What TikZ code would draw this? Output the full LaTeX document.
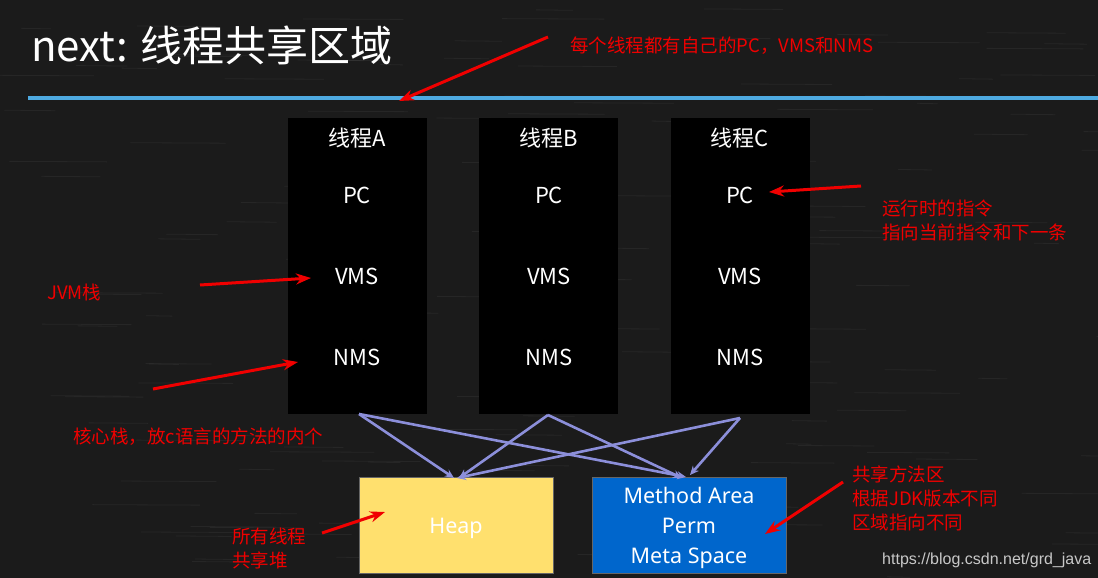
\documentclass[tikz,border=0pt]{standalone}
\usepackage{fontspec}
\setmainfont{Noto Sans}
\newfontfamily\cjk{Noto Sans CJK SC}
\newfontfamily\wmfont{Liberation Sans}
\usetikzlibrary{arrows.meta}
\definecolor{bgcol}{RGB}{27,27,27}
\definecolor{linecol}{RGB}{78,170,225}
\definecolor{conncol}{RGB}{140,143,218}
\definecolor{heapcol}{RGB}{255,224,110}
\definecolor{methcol}{RGB}{0,102,204}
\definecolor{annred}{RGB}{240,0,0}
\definecolor{wmgray}{RGB}{200,200,200}
\tikzset{
  colbox/.style={fill=black, draw=none, minimum width=139pt, minimum height=296pt, inner sep=0pt},
  coltext/.style={text=white, font=\cjk\fontsize{22}{26}\selectfont, inner sep=0pt},
  membox/.style={minimum width=194pt, minimum height=96pt, inner sep=0pt, draw=black!60, line width=0.8pt},
  memtext/.style={text=white, font=\fontsize{21.5}{30}\selectfont, align=center},
  conn/.style={draw=conncol, line width=2.6pt, -{Stealth[length=9pt,width=8pt]}},
  redarrow/.style={draw=annred, line width=3pt, -{Stealth[length=15pt,width=11pt]}},
  redtext/.style={text=annred, font=\cjk\fontsize{18.5}{24}\selectfont, anchor=west, align=left, inner sep=0pt},
}
\begin{document}
\begin{tikzpicture}[x=1pt,y=-1pt]
\fill[bgcol] (0,0) rectangle (1098,578);
\useasboundingbox (0,0) rectangle (1098,578);
% faint chalkboard streaks
\pgfmathsetseed{7}
\foreach \i in {1,...,140}{
  \pgfmathsetmacro{\xx}{rnd*1098}
  \pgfmathsetmacro{\yy}{rnd*578}
  \pgfmathsetmacro{\ll}{20+rnd*90}
  \draw[white, opacity=0.05, line width=0.8pt] (\xx,\yy) -- ++(\ll,0.5);
}
% title
\node[anchor=west, inner sep=0pt, text=white, font=\cjk\fontsize{42}{50}\selectfont] (title) at (31,45) {next: 线程共享区域};
% blue line
\coordinate (lineL) at (28,98);
\coordinate (lineR) at (1098,98);
\draw[linecol, line width=3.5pt] (lineL) -- (lineR);
% thread columns
\node[colbox] (colA) at (357.5,266) {};
\node[colbox] (colB) at (548.5,266) {};
\node[colbox] (colC) at (740.5,266) {};
\foreach \c/\x/\l in {A/357/A, B/549/B, C/740/C}{
  \node[coltext] (t\c) at (\x,138) {线程\l};
  \node[coltext] (pc\c) at (\x,195) {PC};
  \node[coltext] (vms\c) at (\x,276) {VMS};
  \node[coltext] (nms\c) at (\x,357) {NMS};
}
% memory boxes
\node[membox, fill=heapcol] (heap) at (456,525) {};
\node[memtext, text=white] (heaptext) at (456,528) {Heap};
\node[membox, fill=methcol] (meth) at (689,525) {};
\node[memtext] (methtext) at (689,528) {Method Area\\Perm\\Meta Space};
% connectors
\coordinate (aBot) at (359,414);
\coordinate (bBot) at (548,415);
\coordinate (cBot) at (740,418);
\coordinate (heapA) at (454,478);
\coordinate (heapB) at (459,478);
\coordinate (heapC) at (457,478);
\coordinate (methA) at (686,477);
\coordinate (methB) at (682,478);
\coordinate (methC) at (690,475);
\draw[conn] (aBot) -- (heapA);
\draw[conn] (aBot) -- (methA);
\draw[conn] (bBot) -- (heapB);
\draw[conn] (bBot) -- (methB);
\draw[conn] (cBot) -- (heapC);
\draw[conn] (cBot) -- (methC);
% red annotations
\node[redtext] (n1) at (570,46) {每个线程都有自己的PC，VMS和NMS};
\coordinate (a1s) at (548,37);
\coordinate (a1e) at (399,101);
\draw[redarrow] (a1s) -- (a1e);

\node[redtext] (n2) at (882,220) {运行时的指令\\指向当前指令和下一条};
\coordinate (a2s) at (861,186);
\coordinate (a2e) at (769,192);
\draw[redarrow] (a2s) -- (a2e);

\node[redtext] (n3) at (47,292) {JVM栈};
\coordinate (a3s) at (200,285);
\coordinate (a3e) at (311,278);
\draw[redarrow] (a3s) -- (a3e);

\node[redtext] (n4) at (73,437) {核心栈，放c语言的方法的内个};
\coordinate (a4s) at (153,389);
\coordinate (a4e) at (298,362);
\draw[redarrow] (a4s) -- (a4e);

\node[redtext] (n5) at (232,548) {所有线程\\共享堆};
\coordinate (a5s) at (322,533);
\coordinate (a5e) at (385,512);
\draw[redarrow] (a5s) -- (a5e);

\node[redtext] (n6) at (852,498) {共享方法区\\根据JDK版本不同\\区域指向不同};
\coordinate (a6s) at (843,482);
\coordinate (a6e) at (765,534);
\draw[redarrow] (a6s) -- (a6e);

% watermark
\node[anchor=west, inner sep=0pt, text=wmgray, font=\wmfont\fontsize{16}{19}\selectfont] (wm) at (882,560) {https://blog.csdn.net/grd\_java};
\end{tikzpicture}
\end{document}
